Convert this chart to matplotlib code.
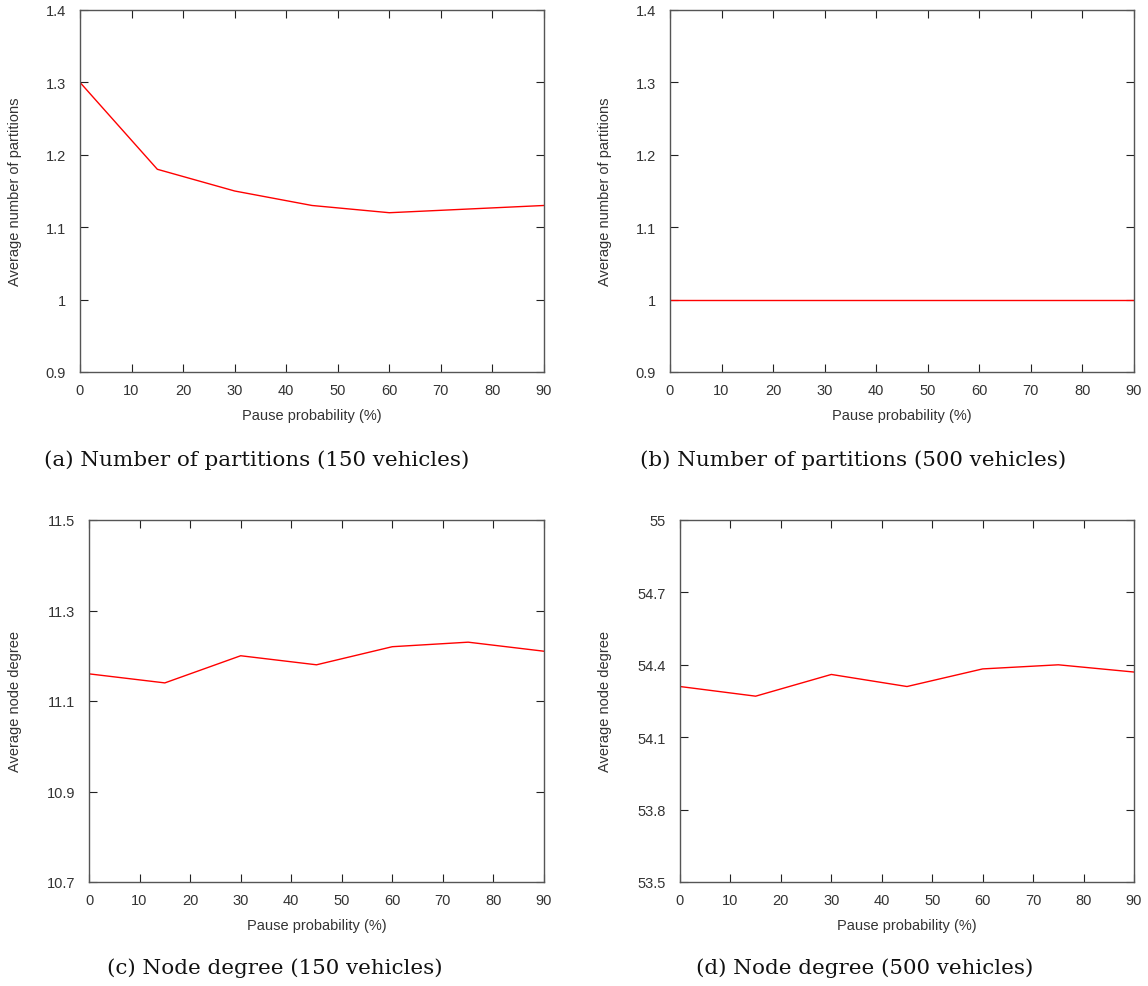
import matplotlib
matplotlib.use("Agg")
import matplotlib.pyplot as plt

W, H = 1148, 987
pause = [0, 15, 30, 45, 60, 75, 90]
part150 = [1.30, 1.18, 1.15, 1.13, 1.12, 1.125, 1.13]
part500 = [1.0, 1.0, 1.0, 1.0, 1.0, 1.0, 1.0]
deg150 = [11.16, 11.14, 11.20, 11.18, 11.22, 11.23, 11.21]
deg500 = [54.31, 54.27, 54.36, 54.31, 54.383, 54.40, 54.37]

xticks = [0, 10, 20, 30, 40, 50, 60, 70, 80, 90]
yt_part = [0.9, 1.0, 1.1, 1.2, 1.3, 1.4]
yl_part = ["0.9", "1", "1.1", "1.2", "1.3", "1.4"]
yt_d150 = [10.7, 10.9, 11.1, 11.3, 11.5]
yl_d150 = ["10.7", "10.9", "11.1", "11.3", "11.5"]
yt_d500 = [53.5, 53.8, 54.1, 54.4, 54.7, 55.0]
yl_d500 = ["53.5", "53.8", "54.1", "54.4", "54.7", "55"]

xlabel = "Pause probability (%)"
ylab_part = "Average number of partitions"
ylab_deg = "Average node degree"
captions = ["(a) Number of partitions (150 vehicles)",
            "(b) Number of partitions (500 vehicles)",
            "(c) Node degree (150 vehicles)",
            "(d) Node degree (500 vehicles)"]

fig = plt.figure(figsize=(W/100, H/100), dpi=100)
TXT = "#333333"
FR = "#555555"
sans = ["Liberation Sans", "DejaVu Sans"]
FS = 10.5

def mk(l, t, r, b, y, yt, yl, ylab, cap, capx, capy, ylx):
    ax = fig.add_axes([l/W, 1-b/H, (r-l)/W, (b-t)/H])
    ax.plot(pause, y, color="#ff0000", lw=1.0)
    ax.set_xlim(0, 90)
    ax.set_ylim(yt[0], yt[-1])
    ax.set_xticks(xticks)
    ax.set_xticklabels([str(v) for v in xticks], family=sans, fontsize=FS, color=TXT)
    ax.set_yticks(yt)
    ax.set_yticklabels(yl, family=sans, fontsize=FS, color=TXT)
    ax.tick_params(direction="in", length=6, width=0.8, color="#222222",
                   top=True, right=True)
    ax.tick_params(axis="y", pad=10)
    ax.tick_params(axis="x", pad=8)
    for s in ax.spines.values():
        s.set_color(FR)
        s.set_linewidth(1.0)
    ax.set_xlabel(xlabel, family=sans, fontsize=FS, color=TXT, labelpad=8)
    ax.set_ylabel(ylab, family=sans, fontsize=FS, color=TXT)
    ax.yaxis.set_label_coords((ylx - l) / (r - l), 0.5)
    fig.text(capx / W, 1 - capy / H, cap, ha="center", va="center",
             family=["DejaVu Serif"], fontsize=15.4, color="#111111")
    return ax

mk(80, 11, 544, 373, part150, yt_part, yl_part, ylab_part, captions[0], 257, 460, 22)
mk(670, 11, 1134, 373, part500, yt_part, yl_part, ylab_part, captions[1], 853, 460, 612)
mk(89, 521, 544, 883, deg150, yt_d150, yl_d150, ylab_deg, captions[2], 275, 968, 22)
mk(680, 521, 1134, 883, deg500, yt_d500, yl_d500, ylab_deg, captions[3], 865, 968, 612)

fig.savefig("out.png", dpi=100, facecolor="white")
